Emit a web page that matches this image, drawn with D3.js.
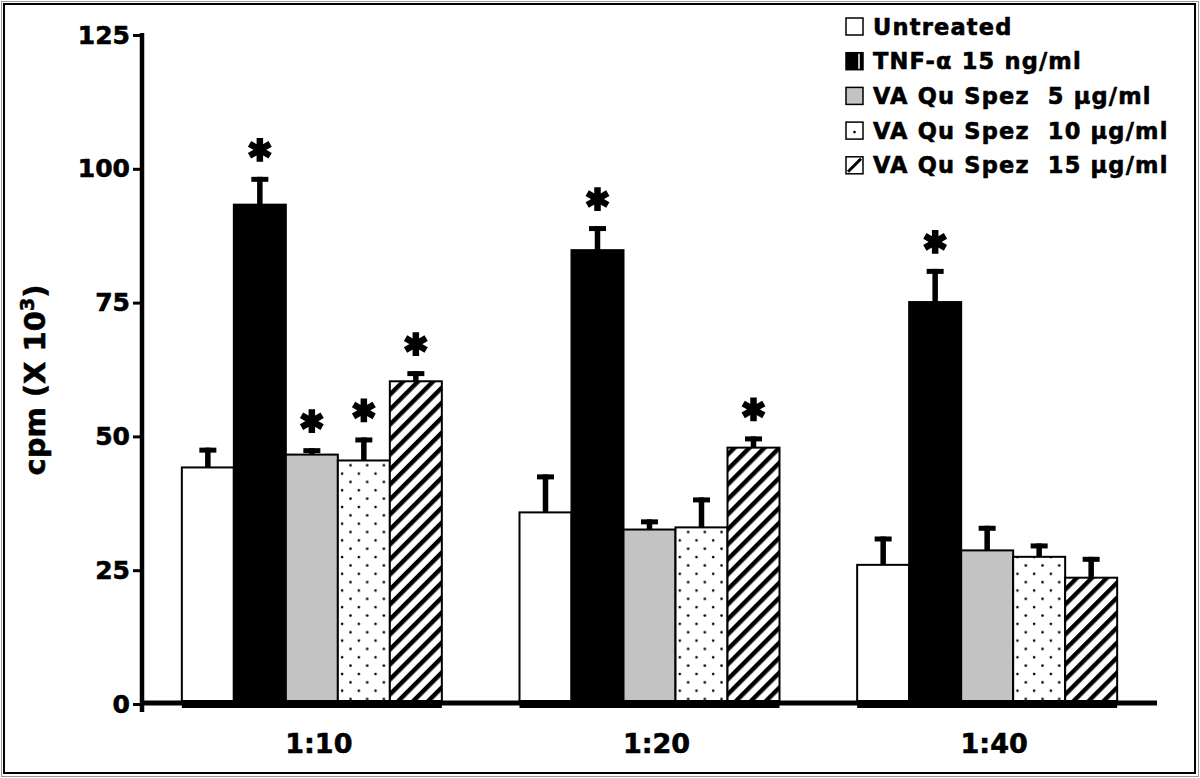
<!DOCTYPE html>
<html>
<head>
<meta charset="utf-8">
<script src="https://cdn.jsdelivr.net/npm/d3@7.9.0/dist/d3.min.js"></script>
<style>
  body { margin: 0; background: #fff; }
  svg { display: block; font-family: "DejaVu Sans", Verdana, sans-serif; font-weight: bold; }
  text { white-space: pre; stroke: #000; stroke-width: 0.6px; }
</style>
</head>
<body>
<svg id="chart" width="1200" height="778"></svg>
<script>
// dilutions on the x axis
const groups = ['1:10', '1:20', '1:40'];
const series = ['Untreated', 'TNF-\u03b1 15 ng/ml', 'VA Qu Spez  5 \u00b5g/ml', 'VA Qu Spez  10 \u00b5g/ml', 'VA Qu Spez  15 \u00b5g/ml'];

// mean cpm (x 10^3) per treatment, one value per dilution
const untreated = [44.2, 35.8, 26.0];
const tnf = [93.3, 84.8, 75.1];
const va5 = [46.6, 32.6, 28.7];
const va10 = [45.5, 33.0, 27.5];
const va15 = [60.3, 47.9, 23.6];

// upper error (SD)
const untreatedErr = [3.7, 7.1, 5.3];
const tnfErr = [5.2, 4.5, 6.2];
const va5Err = [1.2, 1.9, 4.6];
const va10Err = [4.3, 5.6, 2.5];
const va15Err = [1.9, 2.1, 3.9];

// significance markers (*)
const untreatedSig = [false, false, false];
const tnfSig = [true, true, true];
const va5Sig = [true, false, false];
const va10Sig = [true, false, false];
const va15Sig = [true, true, false];

const yTicks = [0, 25, 50, 75, 100, 125];

const means = [untreated, tnf, va5, va10, va15];
const errs = [untreatedErr, tnfErr, va5Err, va10Err, va15Err];
const sigs = [untreatedSig, tnfSig, va5Sig, va10Sig, va15Sig];

const fills = ['#fff', '#000', '#c3c3c3', 'url(#dots)', 'url(#hatch)'];

const svg = d3.select('#chart');

// outer frame
svg.append('rect').attr('x', 1.5).attr('y', 1.5).attr('width', 1197).attr('height', 775)
    .attr('fill', 'none').attr('stroke', '#999').attr('stroke-width', 1);
svg.append('rect').attr('x', 4).attr('y', 4).attr('width', 1191).attr('height', 769)
    .attr('fill', 'none').attr('stroke', '#000').attr('stroke-width', 2);

// patterns
const defs = svg.append('defs');
const dots = defs.append('pattern').attr('id', 'dots').attr('patternUnits', 'userSpaceOnUse')
    .attr('width', 16.7).attr('height', 16.7).attr('x', 6).attr('y', 2);
dots.append('rect').attr('width', 16.7).attr('height', 16.7).attr('fill', '#fff');
dots.append('circle').attr('cx', 4).attr('cy', 4).attr('r', 1.3).attr('fill', '#000');
dots.append('circle').attr('cx', 12.35).attr('cy', 12.35).attr('r', 1.3).attr('fill', '#000');

const hatch = defs.append('pattern').attr('id', 'hatch').attr('patternUnits', 'userSpaceOnUse')
    .attr('width', 10.6).attr('height', 10.6).attr('patternTransform', 'rotate(45)');
hatch.append('rect').attr('width', 10.6).attr('height', 10.6).attr('fill', '#fff');
hatch.append('rect').attr('x', 0).attr('width', 4.4).attr('height', 10.6).attr('fill', '#000');

// scales
const x0 = d3.scaleBand().domain(groups).range([142, 1157]).paddingInner(0.23).paddingOuter(0.118);
const x1 = d3.scaleBand().domain(d3.range(series.length)).range([0, x0.bandwidth()]);
const y = d3.scaleLinear().domain([0, 125]).range([704, 35]);

// y axis
const yAxis = svg.append('g').attr('transform', 'translate(142,0)')
    .call(d3.axisLeft(y).tickValues(yTicks).tickSize(9).tickSizeOuter(0).tickPadding(3));
yAxis.select('.domain').remove();
yAxis.selectAll('.tick line').attr('stroke', '#000').attr('stroke-width', 3);
yAxis.selectAll('.tick text').attr('font-size', 25).attr('font-family', '"DejaVu Sans", sans-serif')
    .attr('font-weight', 'bold').attr('fill', '#000');
svg.append('line').attr('x1', 142).attr('x2', 142).attr('y1', y(125) - 2).attr('y2', y(0) + 8)
    .attr('stroke', '#000').attr('stroke-width', 4.5);

// bars
const groupG = svg.selectAll('.grp').data(groups).join('g')
    .attr('class', 'grp')
    .attr('transform', d => `translate(${x0(d)},0)`);

groupG.each(function (g, gi) {
    const gsel = d3.select(this);
    series.forEach((s, si) => {
        const v = means[si][gi];
        const e = errs[si][gi];
        const bx = x1(si);
        const bw = x1.bandwidth();
        const cx = bx + bw / 2;
        // error bar (upper only)
        gsel.append('rect').attr('x', cx - 2.75).attr('width', 5.5)
            .attr('y', y(v + e)).attr('height', y(v) - y(v + e)).attr('fill', '#000');
        gsel.append('rect').attr('x', cx - 8.5).attr('width', 17)
            .attr('y', y(v + e)).attr('height', 5).attr('fill', '#000');
        gsel.append('rect').attr('x', bx).attr('width', bw)
            .attr('y', y(v)).attr('height', y(0) - y(v))
            .attr('fill', fills[si]).attr('stroke', '#000').attr('stroke-width', 2);
        if (sigs[si][gi]) {
            gsel.append('path')
                .attr('d', d3.symbol(d3.symbolAsterisk, 400)())
                .attr('transform', `translate(${cx},${y(v + e) - 27})`)
                .attr('fill', 'none').attr('stroke', '#000').attr('stroke-width', 6.5);
        }
    });
    gsel.append('rect').attr('x', 0).attr('width', x0.bandwidth())
        .attr('y', 700).attr('height', 8).attr('fill', '#000');
});

// x axis
svg.append('line').attr('x1', 142).attr('x2', 1157).attr('y1', 703).attr('y2', 703)
    .attr('stroke', '#000').attr('stroke-width', 5);
const xAxis = svg.append('g').attr('transform', 'translate(0,704)')
    .call(d3.axisBottom(x0).tickSize(0).tickPadding(30));
xAxis.select('.domain').remove();
xAxis.selectAll('.tick text').attr('font-size', 27).attr('font-family', '"DejaVu Sans", sans-serif')
    .attr('font-weight', 'bold').attr('fill', '#000').attr('dx', 7);

// y label
const yl = svg.append('text')
    .attr('transform', 'translate(45,380) rotate(-90)')
    .attr('text-anchor', 'middle').attr('font-size', 29).attr('fill', '#000');
yl.append('tspan').text('cpm (X 10');
yl.append('tspan').attr('font-size', 19).attr('dy', -11).text('3');
yl.append('tspan').attr('dy', 11).text(')');

// legend
const legend = svg.append('g').attr('transform', 'translate(846,18)');
series.forEach((s, i) => {
    const row = legend.append('g').attr('transform', `translate(0,${i * 34.7})`);
    row.append('rect').attr('x', 0).attr('y', 0).attr('width', 17).attr('height', 17)
        .attr('fill', i === 3 || i === 4 ? '#fff' : fills[i]).attr('stroke', '#000').attr('stroke-width', 1.5);
    if (i === 1) {
        row.append('line').attr('x1', 13).attr('x2', 13).attr('y1', 1).attr('y2', 16)
            .attr('stroke', '#fff').attr('stroke-width', 1.5);
    }
    if (i === 3) {
        row.append('circle').attr('cx', 8.5).attr('cy', 10).attr('r', 1.3).attr('fill', '#000');
    }
    if (i === 4) {
        row.append('line').attr('x1', 2).attr('y1', 15).attr('x2', 15).attr('y2', 2)
            .attr('stroke', '#000').attr('stroke-width', 3);
    }
    row.append('text').attr('x', 27).attr('y', 16.5).attr('font-size', 22.5)
        .attr('letter-spacing', 1.2).attr('fill', '#000').text(s);
});
</script>
</body>
</html>
